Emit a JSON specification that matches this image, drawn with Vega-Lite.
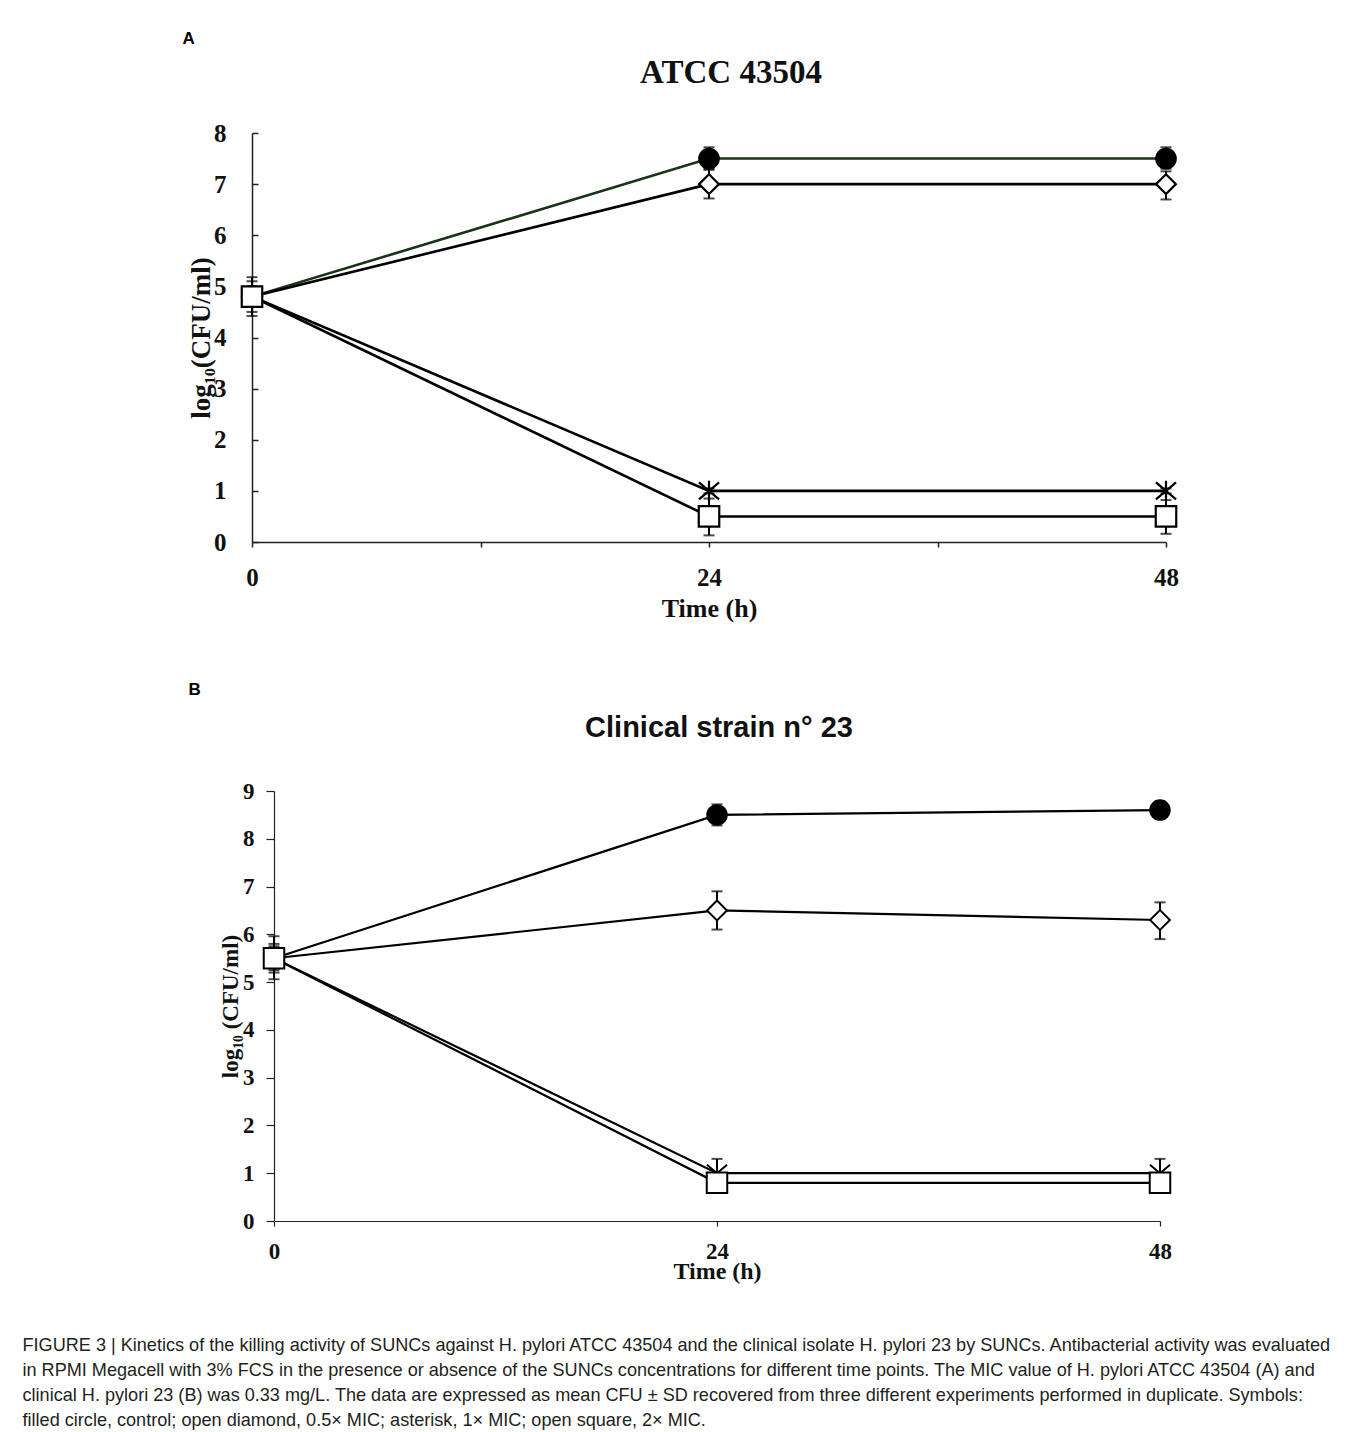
{
  "$schema": "https://vega.github.io/schema/vega-lite/v6.json",
  "background": "white",
  "padding": {"left": 22, "top": 30, "right": 0, "bottom": 0},
  "title": {
    "text": [
      "FIGURE 3 | Kinetics of the killing activity of SUNCs against H. pylori ATCC 43504 and the clinical isolate H. pylori 23 by SUNCs. Antibacterial activity was evaluated",
      "in RPMI Megacell with 3% FCS in the presence or absence of the SUNCs concentrations for different time points. The MIC value of H. pylori ATCC 43504 (A) and",
      "clinical H. pylori 23 (B) was 0.33 mg/L. The data are expressed as mean CFU ± SD recovered from three different experiments performed in duplicate. Symbols:",
      "filled circle, control; open diamond, 0.5× MIC; asterisk, 1× MIC; open square, 2× MIC."
    ],
    "orient": "bottom",
    "anchor": "start",
    "frame": "bounds",
    "baseline": "top",
    "dx": -160,
    "offset": 54,
    "font": "Liberation Sans",
    "fontSize": 18.1,
    "fontWeight": "normal",
    "lineHeight": 25,
    "color": "#231f20"
  },
  "config": {
    "view": {"stroke": null},
    "concat": {"spacing": 60},
    "axis": {"grid": false, "domainColor": "#222", "tickColor": "#222", "labelColor": "#111", "titleColor": "#111", "labelFlush": false}
  },
  "datasets": {
    "a": [
      {"group": "control", "t": 0, "mean": 4.8, "lo": 4.6, "hi": 5.0},
      {"group": "control", "t": 24, "mean": 7.5, "lo": 7.3, "hi": 7.72},
      {"group": "control", "t": 48, "mean": 7.5, "lo": 7.3, "hi": 7.72},
      {"group": "0.5x MIC", "t": 0, "mean": 4.8, "lo": 4.5, "hi": 5.1},
      {"group": "0.5x MIC", "t": 24, "mean": 7.0, "lo": 6.72, "hi": 7.28},
      {"group": "0.5x MIC", "t": 48, "mean": 7.0, "lo": 6.7, "hi": 7.25},
      {"group": "1x MIC", "t": 0, "mean": 4.8, "lo": 4.6, "hi": 5.0},
      {"group": "1x MIC", "t": 24, "mean": 1.0, "lo": 0.95, "hi": 1.05},
      {"group": "1x MIC", "t": 48, "mean": 1.0, "lo": 0.95, "hi": 1.05},
      {"group": "2x MIC", "t": 0, "mean": 4.8, "lo": 4.42, "hi": 5.18},
      {"group": "2x MIC", "t": 24, "mean": 0.5, "lo": 0.13, "hi": 0.85},
      {"group": "2x MIC", "t": 48, "mean": 0.5, "lo": 0.16, "hi": 0.82}
    ],
    "b": [
      {"group": "control", "t": 0, "mean": 5.5, "lo": 5.3, "hi": 5.7},
      {"group": "control", "t": 24, "mean": 8.5, "lo": 8.28, "hi": 8.72},
      {"group": "control", "t": 48, "mean": 8.6, "lo": 8.42, "hi": 8.78},
      {"group": "0.5x MIC", "t": 0, "mean": 5.5, "lo": 5.2, "hi": 5.8},
      {"group": "0.5x MIC", "t": 24, "mean": 6.5, "lo": 6.1, "hi": 6.9},
      {"group": "0.5x MIC", "t": 48, "mean": 6.3, "lo": 5.9, "hi": 6.67},
      {"group": "1x MIC", "t": 0, "mean": 5.5, "lo": 5.25, "hi": 5.75},
      {"group": "1x MIC", "t": 24, "mean": 1.0, "lo": 0.7, "hi": 1.3},
      {"group": "1x MIC", "t": 48, "mean": 1.0, "lo": 0.7, "hi": 1.3},
      {"group": "2x MIC", "t": 0, "mean": 5.5, "lo": 5.06, "hi": 5.96},
      {"group": "2x MIC", "t": 24, "mean": 0.8, "lo": 0.75, "hi": 0.85},
      {"group": "2x MIC", "t": 48, "mean": 0.8, "lo": 0.75, "hi": 0.85}
    ]
  },
  "vconcat": [
    {
      "title": {"text": "A", "anchor": "start", "frame": "bounds", "font": "Liberation Sans", "fontSize": 17, "fontWeight": "bold", "color": "#000", "offset": 9, "dx": -5},
      "vconcat": [
        {
          "width": 914,
          "height": 409,
          "title": {"text": "ATCC 43504", "font": "Liberation Serif", "fontSize": 33, "fontWeight": "bold", "color": "#111", "offset": 31, "dx": 22},
          "data": {"name": "a"},
          "encoding": {
            "x": {"field": "t", "type": "quantitative", "scale": {"domain": [0, 48], "nice": false},
              "axis": {"values": [0, 12, 24, 36, 48], "labelExpr": "datum.value % 24 === 0 ? datum.label : ''", "title": "Time (h)", "labelFont": "Liberation Serif", "labelFontWeight": "bold", "labelFontSize": 25, "labelPadding": 18, "titleFont": "Liberation Serif", "titleFontWeight": "bold", "titleFontSize": 26, "titlePadding": 5, "tickSize": 5, "domainWidth": 1.5, "tickWidth": 1.5}}
          },
          "layer": [
            {
              "mark": {"type": "line", "strokeWidth": 2.6},
              "encoding": {
                "y": {"field": "mean", "type": "quantitative", "title": "log₁₀(CFU/ml)", "scale": {"domain": [0, 8], "nice": false},
                  "axis": {"values": [0, 1, 2, 3, 4, 5, 6, 7, 8], "labelFont": "Liberation Serif", "labelFontWeight": "bold", "labelFontSize": 25, "labelPadding": 32, "titleFont": "Liberation Serif", "titleFontWeight": "bold", "titleFontSize": 27, "titlePadding": -2, "tickSize": -6, "domainWidth": 1.5, "tickWidth": 1.5}},
                "detail": {"field": "group"},
                "color": {"field": "group", "type": "nominal", "legend": null,
                  "scale": {"domain": ["control", "0.5x MIC", "1x MIC", "2x MIC"], "range": ["#163516", "#000000", "#000000", "#000000"]}}
              }
            },
            {
              "mark": {"type": "errorbar", "ticks": {"size": 11, "thickness": 2, "color": "#000"}, "rule": {"strokeWidth": 2, "color": "#000"}},
              "encoding": {
                "y": {"field": "lo", "type": "quantitative", "title": "log₁₀(CFU/ml)"},
                "y2": {"field": "hi"},
                "detail": {"field": "group"}
              }
            },
            {
              "mark": {"type": "point", "opacity": 1, "strokeWidth": 2.2, "stroke": "#000"},
              "encoding": {
                "y": {"field": "mean", "type": "quantitative", "title": "log₁₀(CFU/ml)"},
                "shape": {"field": "group", "type": "nominal", "legend": null,
                  "scale": {"domain": ["control", "0.5x MIC", "1x MIC", "2x MIC"], "range": ["circle", "diamond", "M-1,-0.85L1,0.85M1,-0.85L-1,0.85M0,-1L0,1", "square"]}},
                "fill": {"field": "group", "type": "nominal", "legend": null,
                  "scale": {"domain": ["control", "0.5x MIC", "1x MIC", "2x MIC"], "range": ["#000000", "#ffffff", "#ffffff", "#ffffff"]}},
                "size": {"field": "group", "type": "nominal", "legend": null,
                  "scale": {"domain": ["control", "0.5x MIC", "1x MIC", "2x MIC"], "range": [380, 420, 480, 330]}}
              }
            }
          ]
        }
      ]
    },
    {
      "title": {"text": "B", "anchor": "start", "frame": "bounds", "font": "Liberation Sans", "fontSize": 17, "fontWeight": "bold", "color": "#000", "offset": 15, "dx": -31},
      "vconcat": [
        {
          "width": 908,
          "height": 430,
          "title": {"text": "Clinical strain n° 23", "font": "Liberation Sans", "fontSize": 29, "fontWeight": "bold", "color": "#111", "offset": 37, "dx": 13},
          "data": {"name": "b"},
          "encoding": {
            "x": {"field": "t", "type": "quantitative", "scale": {"domain": [0, 48], "nice": false, "range": [22, 908]},
              "axis": {"values": [0, 24, 48], "title": "Time (h)", "labelFont": "Liberation Serif", "labelFontWeight": "bold", "labelFontSize": 23, "labelPadding": 14, "titleFont": "Liberation Serif", "titleFontWeight": "bold", "titleFontSize": 24, "titlePadding": -4, "tickSize": 5, "domainWidth": 1.2, "tickWidth": 1.2}}
          },
          "layer": [
            {
              "mark": {"type": "line", "strokeWidth": 2.2, "color": "#000"},
              "encoding": {
                "y": {"field": "mean", "type": "quantitative", "title": "log₁₀ (CFU/ml)", "scale": {"domain": [0, 9], "nice": false},
                  "axis": {"values": [0, 1, 2, 3, 4, 5, 6, 7, 8, 9], "offset": -22, "labelFont": "Liberation Serif", "labelFontWeight": "bold", "labelFontSize": 23, "labelPadding": 12, "titleFont": "Liberation Serif", "titleFontWeight": "bold", "titleFontSize": 23, "titlePadding": 0, "tickSize": 8, "domainWidth": 1.2, "tickWidth": 1.2}},
                "detail": {"field": "group"}
              }
            },
            {
              "mark": {"type": "errorbar", "ticks": {"size": 11, "thickness": 2, "color": "#000"}, "rule": {"strokeWidth": 2, "color": "#000"}},
              "encoding": {
                "y": {"field": "lo", "type": "quantitative", "title": "log₁₀ (CFU/ml)"},
                "y2": {"field": "hi"},
                "detail": {"field": "group"}
              }
            },
            {
              "mark": {"type": "point", "opacity": 1, "strokeWidth": 2, "stroke": "#000"},
              "encoding": {
                "y": {"field": "mean", "type": "quantitative", "title": "log₁₀ (CFU/ml)"},
                "shape": {"field": "group", "type": "nominal", "legend": null,
                  "scale": {"domain": ["control", "0.5x MIC", "1x MIC", "2x MIC"], "range": ["circle", "diamond", "M-1,-0.85L1,0.85M1,-0.85L-1,0.85M0,-1L0,1", "square"]}},
                "fill": {"field": "group", "type": "nominal", "legend": null,
                  "scale": {"domain": ["control", "0.5x MIC", "1x MIC", "2x MIC"], "range": ["#000000", "#ffffff", "#ffffff", "#ffffff"]}},
                "size": {"field": "group", "type": "nominal", "legend": null,
                  "scale": {"domain": ["control", "0.5x MIC", "1x MIC", "2x MIC"], "range": [170, 280, 220, 280]}}
              }
            }
          ]
        }
      ]
    }
  ]
}
